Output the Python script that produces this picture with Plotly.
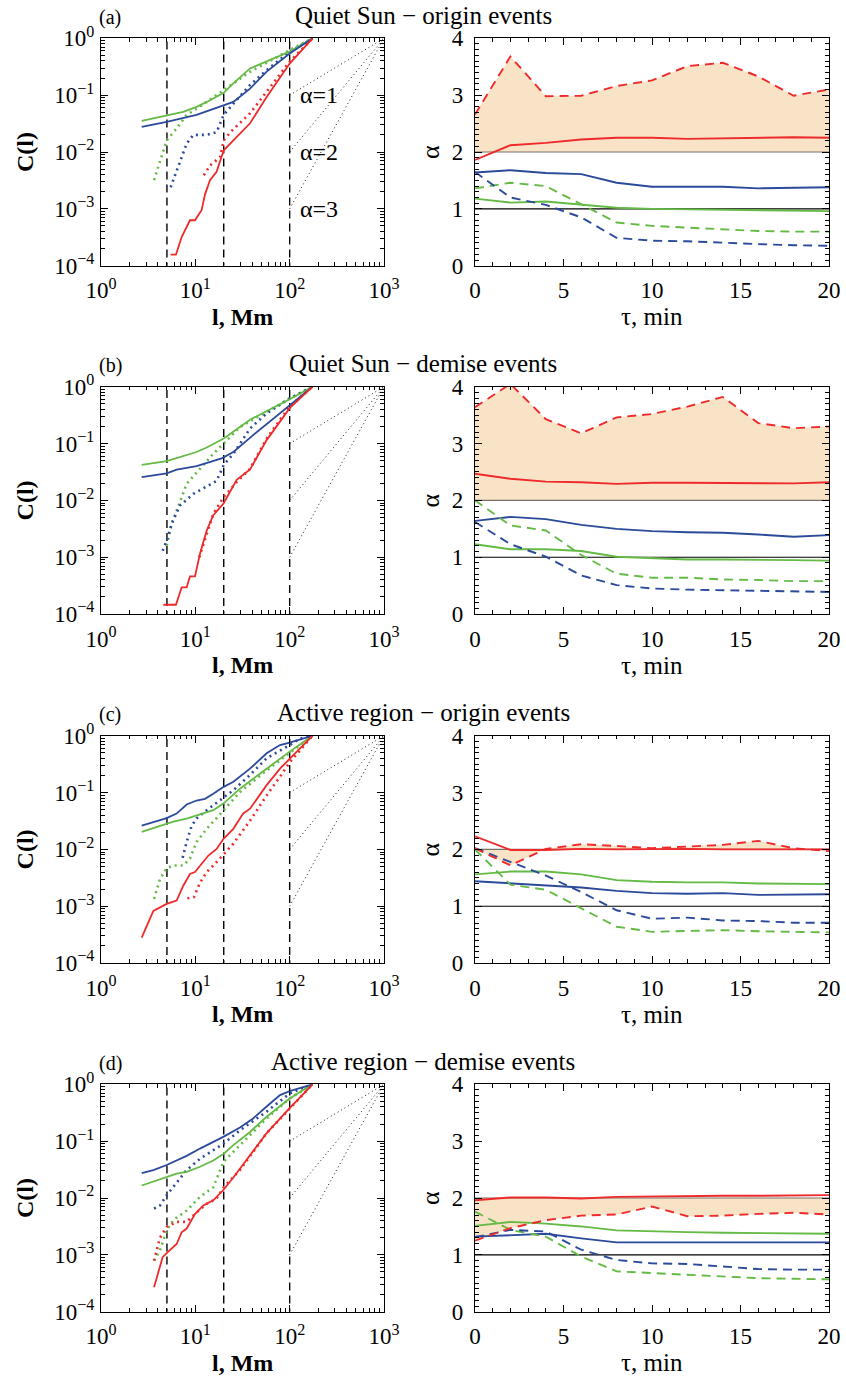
import plotly.graph_objects as go

W, H = 846, 1378
FONT = "Liberation Serif, Times New Roman, serif"

# ---- colours ----
RED = "#ee2a2a"
BLUE = "#2c4a9b"
GREEN = "#64ba45"
SHADE = "#f8e3c6"

# ---- left column: cumulative distributions C(l), l in Mm ----
# (a) Quiet Sun, origin events
a_l_green = [2.70, 4.97, 7.45, 10.3, 13.2, 20.0, 25.3, 38.0, 100, 175]
a_c_green = [0.0352, 0.0447, 0.051, 0.0622, 0.076, 0.110, 0.161, 0.295, 0.582, 1.0]
a_l_blue = [2.70, 4.97, 10.3, 20.0, 25.3, 38.0, 57.0, 100, 175]
a_c_blue = [0.0276, 0.034, 0.045, 0.065, 0.076, 0.13, 0.26, 0.54, 1.0]
a_l_red = [5.47, 6.23, 7.16, 8.77, 9.91, 11.65, 12.67, 14.3, 16.8, 20.0, 25.3, 38.0, 57.0, 100, 175]
a_c_red = [1.56e-4, 1.56e-4, 3.2e-4, 6.3e-4, 6.3e-4, 9.5e-4, 1.8e-3, 3.2e-3, 4.5e-3, 1.07e-2,
           1.6e-2, 3.2e-2, 9.3e-2, 0.36, 1.0]
a_l_green_dot = [3.65, 4.97, 6.34, 8.09, 11.2, 20.0, 38.0, 100, 175]
a_c_green_dot = [3.2e-3, 1.6e-2, 2.6e-2, 4.5e-2, 6.3e-2, 0.123, 0.257, 0.62, 1.0]
a_l_blue_dot = [5.47, 6.34, 8.09, 9.52, 13.2, 16.8, 20.0, 25.3, 38.0, 57.0, 100, 175]
a_c_blue_dot = [2.4e-3, 4.8e-3, 1.4e-2, 2.0e-2, 2.0e-2, 2.24e-2, 4.5e-2, 7.1e-2, 0.151, 0.275, 0.58, 1.0]
a_l_red_dot = [12.3, 14.3, 18.3, 20.0, 23.3, 29.7, 38.0, 57.0, 100, 175]
a_c_red_dot = [3.9e-3, 5.8e-3, 8.1e-3, 1.6e-2, 2.2e-2, 3.2e-2, 4.8e-2, 0.115, 0.39, 1.0]

# (b) Quiet Sun, demise events
b_l_green = [2.70, 4.97, 10.3, 13.2, 20.0, 38.0, 100, 175]
b_c_green = [0.042, 0.049, 0.071, 0.085, 0.123, 0.263, 0.60, 1.0]
b_l_blue = [2.70, 4.97, 6.34, 10.3, 19.0, 25.3, 41.0, 100, 175]
b_c_blue = [0.0257, 0.030, 0.0347, 0.040, 0.055, 0.071, 0.141, 0.48, 1.0]
b_l_red = [4.58, 6.23, 7.16, 8.09, 8.77, 9.91, 11.2, 13.2, 15.5, 20.0, 27.4, 38.0, 57.0, 100, 175]
b_c_red = [1.46e-4, 1.46e-4, 2.95e-4, 2.95e-4, 4.6e-4, 4.6e-4, 1.15e-3, 2.95e-3, 5.5e-3, 8.9e-3,
           2.3e-2, 3.5e-2, 0.115, 0.42, 1.0]
b_l_green_dot = [4.97, 5.62, 6.34, 8.09, 11.2, 15.5, 20.0, 29.7, 57.0, 100, 175]
b_c_green_dot = [1.6e-3, 3.9e-3, 6.6e-3, 1.95e-2, 3.6e-2, 6.6e-2, 0.10, 0.195, 0.363, 0.62, 1.0]
b_l_blue_dot = [4.50, 4.97, 5.62, 6.87, 9.52, 13.2, 16.8, 20.0, 25.3, 38.0, 57.0, 100, 175]
b_c_blue_dot = [1.3e-3, 1.95e-3, 3.9e-3, 8.1e-3, 1.3e-2, 1.74e-2, 2.2e-2, 4.2e-2, 6.6e-2, 0.184,
                0.339, 0.62, 1.0]
b_l_red_dot = [11.0, 13.2, 15.5, 20.0, 27.4, 38.0, 57.0, 100, 175]
b_c_red_dot = [1.0e-3, 2.6e-3, 5.8e-3, 1.15e-2, 2.1e-2, 3.6e-2, 0.123, 0.45, 1.0]

# (c) Active region, origin events
c_l_green = [2.70, 4.97, 5.84, 8.09, 11.2, 15.5, 20.0, 29.7, 57.0, 100, 175]
c_c_green = [0.0204, 0.0282, 0.0309, 0.0347, 0.0407, 0.049, 0.0646, 0.117, 0.263, 0.525, 1.0]
c_l_blue = [2.70, 4.97, 6.34, 8.09, 10.3, 12.67, 15.5, 20.0, 25.3, 38.0, 57.0, 79.0, 100, 175]
c_c_blue = [0.0263, 0.0355, 0.0427, 0.0617, 0.0724, 0.0776, 0.0955, 0.126, 0.155, 0.263, 0.49,
            0.684, 0.759, 1.0]
c_l_red = [2.70, 3.59, 4.97, 6.34, 7.45, 8.77, 9.91, 11.2, 13.75, 16.8, 20.0, 25.3, 32.2, 38.0,
           57.0, 79.0, 100, 175]
c_c_red = [2.8e-4, 8.3e-4, 1.1e-3, 1.26e-3, 2.3e-3, 3.7e-3, 4.0e-3, 5.2e-3, 7.8e-3, 1.02e-2,
           1.55e-2, 2.3e-2, 4.3e-2, 5.2e-2, 0.135, 0.263, 0.39, 1.0]
c_l_green_dot = [3.65, 4.22, 4.97, 5.84, 7.45, 8.77, 10.3, 13.2, 20.0, 29.7, 57.0, 100, 175]
c_c_green_dot = [1.35e-3, 3.0e-3, 4.7e-3, 5.2e-3, 5.2e-3, 6.9e-3, 1.35e-2, 2.3e-2, 4.9e-2, 0.102,
                 0.245, 0.49, 1.0]
c_l_blue_dot = [7.34, 8.09, 9.14, 10.3, 13.2, 20.0, 25.3, 38.0, 57.0, 100, 128, 175]
c_c_blue_dot = [7.1e-3, 1.35e-2, 2.6e-2, 3.5e-2, 4.9e-2, 8.3e-2, 0.11, 0.204, 0.40, 0.684, 0.89, 1.0]
c_l_red_dot = [8.23, 9.67, 11.2, 13.2, 16.8, 20.0, 25.3, 38.0, 57.0, 79.0, 100, 175]
c_c_red_dot = [1.38e-3, 1.45e-3, 2.6e-3, 4.0e-3, 6.0e-3, 8.3e-3, 1.26e-2, 3.2e-2, 8.9e-2, 0.19,
               0.34, 1.0]

# (d) Active region, demise events
d_l_green = [2.70, 4.97, 6.34, 8.09, 11.2, 15.5, 20.0, 25.3, 38.0, 57.0, 100, 175]
d_c_green = [0.0166, 0.0234, 0.0269, 0.0288, 0.0355, 0.0457, 0.060, 0.085, 0.145, 0.269, 0.562, 1.0]
d_l_blue = [2.70, 3.59, 4.97, 8.09, 11.2, 20.0, 29.7, 41.0, 57.0, 79.0, 100, 175]
d_c_blue = [0.0275, 0.031, 0.038, 0.055, 0.074, 0.12, 0.174, 0.251, 0.407, 0.646, 0.759, 1.0]
d_l_red = [3.65, 4.50, 4.97, 6.34, 7.16, 8.09, 9.91, 12.15, 15.5, 20.0, 25.3, 38.0, 57.0, 100, 175]
d_c_red = [2.7e-4, 9.1e-4, 1.07e-3, 1.55e-3, 2.5e-3, 2.9e-3, 5.2e-3, 7.4e-3, 9.1e-3, 1.41e-2,
           2.3e-2, 5.6e-2, 0.138, 0.38, 1.0]
d_l_green_dot = [3.65, 4.22, 4.97, 5.84, 8.09, 11.2, 15.5, 20.0, 29.7, 57.0, 100, 175]
d_c_green_dot = [7.9e-4, 1.2e-3, 2.7e-3, 4.1e-3, 6.0e-3, 1.05e-2, 1.55e-2, 4.4e-2, 8.5e-2, 0.251,
                 0.562, 1.0]
d_l_blue_dot = [3.65, 4.22, 4.97, 5.84, 8.09, 11.2, 20.0, 29.7, 57.0, 100, 175]
d_c_blue_dot = [6.5e-3, 7.4e-3, 1.12e-2, 1.55e-2, 3.1e-2, 4.9e-2, 9.1e-2, 0.155, 0.331, 0.69, 1.0]
d_l_red_dot = [3.65, 4.22, 4.97, 6.34, 8.09, 10.33, 13.2, 16.8, 20.0, 29.7, 57.0, 100, 175]
d_c_red_dot = [7.9e-4, 2.0e-3, 3.1e-3, 3.8e-3, 3.8e-3, 5.6e-3, 7.9e-3, 9.8e-3, 1.55e-2, 3.1e-2,
               0.138, 0.38, 1.0]

# scale boundaries (Mm) and reference power-law slopes
scale_marks_l = [5, 20, 100]
ref_slopes = [1, 2, 3]
ref_l = [100, 1000]

# ---- right column: power-law index alpha vs time lag tau (min) ----
tau = [0, 2, 4, 6, 8, 10, 12, 14, 16, 18, 20]

a_red = [1.86, 2.12, 2.16, 2.22, 2.25, 2.25, 2.23, 2.24, 2.24, 2.26, 2.25]
a_red_d = [2.66, 3.68, 2.98, 2.99, 3.16, 3.26, 3.51, 3.57, 3.33, 2.99, 3.10]
a_blue = [1.64, 1.68, 1.63, 1.61, 1.46, 1.39, 1.39, 1.39, 1.36, 1.37, 1.38]
a_blue_d = [1.65, 1.20, 1.07, 0.85, 0.49, 0.44, 0.43, 0.40, 0.38, 0.36, 0.35]
a_green = [1.18, 1.11, 1.13, 1.08, 1.02, 1.00, 0.99, 0.99, 0.98, 0.96, 0.96]
a_green_d = [1.36, 1.46, 1.40, 1.08, 0.76, 0.70, 0.67, 0.63, 0.61, 0.60, 0.60]

b_red = [2.47, 2.38, 2.33, 2.32, 2.29, 2.31, 2.31, 2.31, 2.30, 2.30, 2.32]
b_red_d = [3.64, 4.05, 3.43, 3.18, 3.46, 3.52, 3.65, 3.82, 3.36, 3.27, 3.30]
b_blue = [1.64, 1.71, 1.67, 1.57, 1.50, 1.46, 1.44, 1.43, 1.40, 1.36, 1.39]
b_blue_d = [1.62, 1.23, 1.01, 0.68, 0.51, 0.45, 0.43, 0.42, 0.40, 0.39, 0.39]
b_green = [1.23, 1.14, 1.14, 1.11, 1.01, 0.98, 0.96, 0.96, 0.96, 0.95, 0.94]
b_green_d = [2.00, 1.56, 1.47, 1.04, 0.71, 0.64, 0.64, 0.61, 0.60, 0.58, 0.58]

c_red = [2.23, 1.99, 1.99, 2.01, 2.00, 2.01, 2.01, 2.00, 2.00, 2.00, 2.00]
c_red_d = [2.02, 1.72, 2.01, 2.09, 2.06, 2.02, 2.05, 2.08, 2.15, 2.02, 1.97]
c_blue = [1.44, 1.40, 1.37, 1.33, 1.27, 1.23, 1.22, 1.23, 1.20, 1.21, 1.21]
c_blue_d = [2.02, 1.78, 1.54, 1.25, 0.93, 0.78, 0.80, 0.75, 0.74, 0.71, 0.71]
c_green = [1.56, 1.61, 1.61, 1.56, 1.46, 1.43, 1.42, 1.42, 1.40, 1.40, 1.39]
c_green_d = [2.00, 1.38, 1.29, 0.97, 0.64, 0.55, 0.57, 0.58, 0.56, 0.55, 0.54]

d_red = [1.96, 2.01, 2.01, 1.99, 2.02, 2.03, 2.04, 2.04, 2.04, 2.04, 2.05]
d_red_d = [1.25, 1.47, 1.61, 1.69, 1.71, 1.85, 1.68, 1.69, 1.72, 1.74, 1.71]
d_blue = [1.32, 1.35, 1.37, 1.29, 1.22, 1.22, 1.22, 1.22, 1.22, 1.22, 1.22]
d_blue_d = [1.31, 1.44, 1.41, 1.09, 0.91, 0.85, 0.84, 0.79, 0.75, 0.74, 0.74]
d_green = [1.51, 1.58, 1.55, 1.50, 1.43, 1.41, 1.40, 1.39, 1.38, 1.38, 1.37]
d_green_d = [1.76, 1.44, 1.32, 0.97, 0.71, 0.68, 0.65, 0.62, 0.59, 0.58, 0.57]

alpha_base = 2       # lower edge of the shaded band
alpha_guides = [1, 2]

titles = ["Quiet Sun − origin events", "Quiet Sun − demise events",
          "Active region − origin events", "Active region − demise events"]
letters = ["(a)", "(b)", "(c)", "(d)"]

C_RANGE = [1e-4, 1.0]
TAU_RANGE = [0, 20]
ALPHA_RANGE = [0, 4]

left_sets = [
    [(a_l_green_dot, a_c_green_dot, GREEN, "dot"), (a_l_blue_dot, a_c_blue_dot, BLUE, "dot"),
     (a_l_red_dot, a_c_red_dot, RED, "dot"), (a_l_green, a_c_green, GREEN, "solid"),
     (a_l_blue, a_c_blue, BLUE, "solid"), (a_l_red, a_c_red, RED, "solid")],
    [(b_l_green_dot, b_c_green_dot, GREEN, "dot"), (b_l_blue_dot, b_c_blue_dot, BLUE, "dot"),
     (b_l_red_dot, b_c_red_dot, RED, "dot"), (b_l_green, b_c_green, GREEN, "solid"),
     (b_l_blue, b_c_blue, BLUE, "solid"), (b_l_red, b_c_red, RED, "solid")],
    [(c_l_green_dot, c_c_green_dot, GREEN, "dot"), (c_l_blue_dot, c_c_blue_dot, BLUE, "dot"),
     (c_l_red_dot, c_c_red_dot, RED, "dot"), (c_l_green, c_c_green, GREEN, "solid"),
     (c_l_blue, c_c_blue, BLUE, "solid"), (c_l_red, c_c_red, RED, "solid")],
    [(d_l_green_dot, d_c_green_dot, GREEN, "dot"), (d_l_blue_dot, d_c_blue_dot, BLUE, "dot"),
     (d_l_red_dot, d_c_red_dot, RED, "dot"), (d_l_green, d_c_green, GREEN, "solid"),
     (d_l_blue, d_c_blue, BLUE, "solid"), (d_l_red, d_c_red, RED, "solid")],
]
right_sets = [
    (a_red, a_red_d, a_blue, a_blue_d, a_green, a_green_d),
    (b_red, b_red_d, b_blue, b_blue_d, b_green, b_green_d),
    (c_red, c_red_d, c_blue, c_blue_d, c_green, c_green_d),
    (d_red, d_red_d, d_blue, d_blue_d, d_green, d_green_d),
]

# ---- page geometry (pixels) ----
ROW_TOP = [38.3, 386.7, 735.7, 1084.3]
AX_H = 227.4
LX = (101.0, 384.0)
RX = (475.0, 829.0)


def xd(px):
    return [px[0] / W, px[1] / W]


def yd(top):
    return [1 - (top + AX_H) / H, 1 - top / H]


def px_x(p):
    return p / W


def px_y(p):
    return 1 - p / H


DOT = "2px,4px"
DASH = "9px,6px"

fig = go.Figure()

sup = {0: "0", 1: "1", 2: "2", 3: "3", -1: "−1", -2: "−2", -3: "−3", -4: "−4"}
x_log_ticks = [1, 10, 100, 1000]
y_log_ticks = [1e-4, 1e-3, 1e-2, 1e-1, 1]
x_log_text = ["10<sup>%s</sup>" % sup[e] for e in range(0, 4)]
y_log_text = ["10<sup>%s</sup>" % sup[e] for e in range(-4, 1)]
x_minor = [m * 10 ** e for e in range(0, 3) for m in range(2, 10)]
y_minor = [m * 10.0 ** e for e in range(-4, 0) for m in range(2, 10)]

axis_common = dict(showline=True, linecolor="black", linewidth=1.3, mirror="allticks",
                   ticks="inside", tickcolor="black", tickwidth=1.1, showgrid=False,
                   zeroline=False, automargin=False,
                   tickfont=dict(family=FONT, size=23, color="black"))

annotations = []


def note(text, x, y, size, angle=0):
    return dict(text=text, x=px_x(x), y=px_y(y), xref="paper", yref="paper",
                xanchor="center", yanchor="middle", textangle=angle, showarrow=False,
                font=dict(family=FONT, size=size, color="black"))


for r in range(4):
    kl, kr = 2 * r + 1, 2 * r + 2
    xl, yl = f"x{kl}", f"y{kl}"
    xr, yr = f"x{kr}", f"y{kr}"

    # --- left: C(l) ---
    for sm in scale_marks_l:
        fig.add_trace(go.Scatter(x=[sm, sm], y=[C_RANGE[0] / 10, C_RANGE[1] * 10], mode="lines",
                                 line=dict(color="black", width=1.4, dash="8px,5px"),
                                 xaxis=xl, yaxis=yl, hoverinfo="skip"))
    for s in ref_slopes:
        fig.add_trace(go.Scatter(x=ref_l, y=[(v / ref_l[-1]) ** s for v in ref_l], mode="lines",
                                 line=dict(color="black", width=0.9, dash="1px,3px"),
                                 xaxis=xl, yaxis=yl, hoverinfo="skip"))
    for lx, cy, col, sty in left_sets[r]:
        fig.add_trace(go.Scatter(x=lx, y=cy, mode="lines",
                                 line=dict(color=col, width=2.6 if sty == "dot" else 1.8,
                                           dash=DOT if sty == "dot" else "solid"),
                                 xaxis=xl, yaxis=yl))

    # --- right: alpha(tau) ---
    red, red_d, blue, blue_d, green, green_d = right_sets[r]
    fig.add_trace(go.Scatter(x=tau, y=[alpha_base] * len(tau), mode="lines",
                             line=dict(width=0), xaxis=xr, yaxis=yr, hoverinfo="skip"))
    fig.add_trace(go.Scatter(x=tau, y=red_d, mode="lines", line=dict(width=0),
                             fill="tonexty", fillcolor=SHADE, xaxis=xr, yaxis=yr,
                             hoverinfo="skip"))
    for g, gc in zip(alpha_guides, ["black", "#7a7068"]):
        fig.add_trace(go.Scatter(x=TAU_RANGE, y=[g, g], mode="lines",
                                 line=dict(color=gc, width=1.1), xaxis=xr, yaxis=yr,
                                 hoverinfo="skip"))
    for ys, col, sty in [(green, GREEN, "solid"), (blue, BLUE, "solid"),
                         (green_d, GREEN, DASH), (blue_d, BLUE, DASH),
                         (red, RED, "solid"), (red_d, RED, DASH)]:
        fig.add_trace(go.Scatter(x=tau, y=ys, mode="lines",
                                 line=dict(color=col, width=1.9, dash=sty),
                                 xaxis=xr, yaxis=yr))

    # axes
    fig.layout[f"xaxis{kl}"] = dict(axis_common, type="log", range=[0, 3], domain=xd(LX),
                                    anchor=yl, tickvals=x_log_ticks, ticktext=x_log_text,
                                    ticklen=7, ticklabelstandoff=4,
                                    minor=dict(tickvals=x_minor, ticks="inside", ticklen=3.5,
                                               tickcolor="black", tickwidth=1))
    fig.layout[f"yaxis{kl}"] = dict(axis_common, type="log", range=[-4, 0], domain=yd(ROW_TOP[r]),
                                    anchor=xl, tickvals=y_log_ticks, ticktext=y_log_text,
                                    ticklen=7, ticklabelstandoff=1,
                                    minor=dict(tickvals=y_minor, ticks="inside", ticklen=3.5,
                                               tickcolor="black", tickwidth=1))
    fig.layout[f"xaxis{kr}"] = dict(axis_common, range=TAU_RANGE, domain=xd(RX), anchor=yr,
                                    tickvals=[0, 5, 10, 15, 20], ticklen=7, ticklabelstandoff=4,
                                    minor=dict(dtick=1, ticks="inside", ticklen=3.5,
                                               tickcolor="black", tickwidth=1))
    fig.layout[f"yaxis{kr}"] = dict(axis_common, range=ALPHA_RANGE, domain=yd(ROW_TOP[r]),
                                    anchor=xr, tickvals=[0, 1, 2, 3, 4], ticklen=7,
                                    ticklabelstandoff=6,
                                    minor=dict(dtick=0.1, ticks="inside", ticklen=3.5,
                                               tickcolor="black", tickwidth=1))

    top = ROW_TOP[r]
    bot = top + AX_H
    mid = top + AX_H / 2
    annotations += [
        note(titles[r], 423, top - 23, 25),
        note(letters[r], 110, top - 21, 20),
        note("<b>C(l)</b>", 25, mid, 24, -90),
        note("<b>l, Mm</b>", 242, bot + 51, 24),
        note("α", 430, mid, 26, -90),
        note("τ, min", 652, bot + 51, 25),
    ]
    if r == 0:
        for s in ref_slopes:
            annotations.append(dict(text=f"α={s}", x=2.085, y=-s, xref=xl, yref=yl,
                                    xanchor="left", yanchor="middle", showarrow=False,
                                    font=dict(family=FONT, size=24, color="black")))

fig.update_layout(template="none", width=W, height=H, margin=dict(l=0, r=0, t=0, b=0),
                  paper_bgcolor="white", plot_bgcolor="white", showlegend=False,
                  annotations=annotations, font=dict(family=FONT, color="black"))

fig.write_html("out.html")
